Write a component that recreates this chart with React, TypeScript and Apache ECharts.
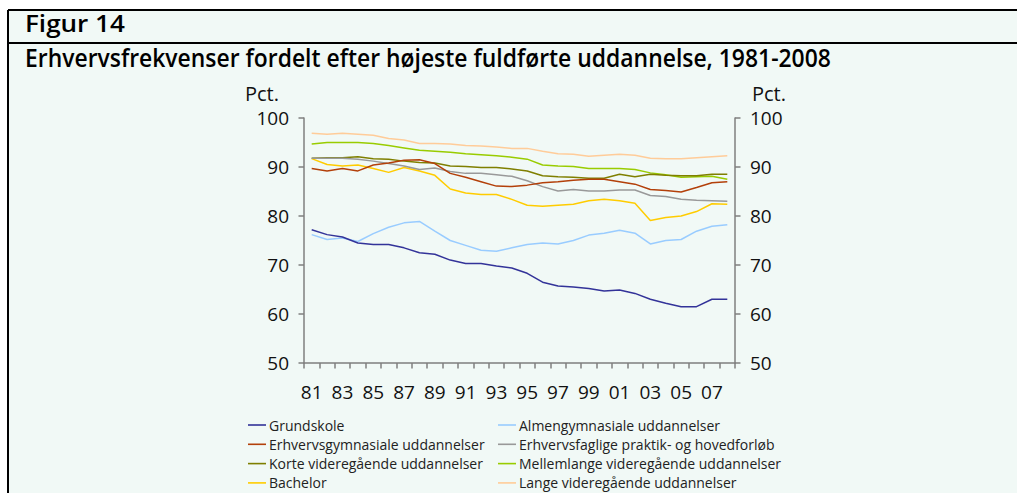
import React, { useEffect, useRef } from "react";
import * as echarts from "echarts";

const years = ["81","82","83","84","85","86","87","88","89","90","91","92","93","94","95","96","97","98","99","00","01","02","03","04","05","06","07","08"];
const yTicks = [50, 60, 70, 80, 90, 100];

const grundskole = [77.2,76.2,75.7,74.5,74.2,74.2,73.5,72.5,72.2,71.0,70.3,70.3,69.8,69.4,68.3,66.5,65.7,65.5,65.2,64.7,64.9,64.2,63.0,62.2,61.5,61.5,63.0,63.0];
const almen = [76.2,75.2,75.5,74.8,76.4,77.7,78.6,78.9,76.9,75.0,74.0,73.0,72.8,73.5,74.2,74.5,74.3,75.0,76.1,76.5,77.1,76.5,74.3,75.0,75.2,76.9,77.9,78.2];
const erhvGym = [89.7,89.2,89.7,89.2,90.4,90.8,91.4,91.5,90.7,88.7,87.9,87.0,86.1,86.0,86.3,86.8,87.0,87.3,87.5,87.5,87.0,86.5,85.4,85.2,84.9,85.8,86.8,87.0];
const erhvFag = [91.8,91.8,91.8,91.6,91.2,90.7,90.2,89.5,89.8,89.1,88.7,88.7,88.4,88.1,87.2,86.0,85.1,85.4,85.1,85.1,85.3,85.3,84.2,84.0,83.4,83.2,83.1,83.0];
const korte = [91.8,91.9,91.9,92.1,91.7,91.6,91.2,90.9,90.8,90.2,90.1,89.9,89.9,89.6,89.2,88.2,88.0,87.9,87.7,87.7,88.5,88.0,88.5,88.3,88.2,88.2,88.5,88.5];
const mellem = [94.7,95.0,95.0,95.0,94.8,94.4,93.9,93.4,93.2,93.0,92.7,92.5,92.3,92.0,91.6,90.4,90.2,90.1,89.7,89.7,89.7,89.5,88.8,88.4,87.9,88.0,88.1,87.5];
const bachelor = [91.7,90.5,90.2,90.4,89.7,88.9,89.9,89.2,88.3,85.5,84.7,84.4,84.4,83.4,82.2,82.0,82.2,82.4,83.1,83.4,83.1,82.6,79.1,79.7,80.0,80.9,82.5,82.4];
const lange = [96.9,96.7,96.9,96.7,96.5,95.8,95.5,94.8,94.8,94.7,94.4,94.3,94.1,93.8,93.8,93.2,92.7,92.6,92.2,92.4,92.6,92.4,91.8,91.7,91.7,91.9,92.1,92.3];

const seriesNames = [
  "Grundskole",
  "Almengymnasiale uddannelser",
  "Erhvervsgymnasiale uddannelser",
  "Erhvervsfaglige praktik- og hovedforløb",
  "Korte videregående uddannelser",
  "Mellemlange videregående uddannelser",
  "Bachelor",
  "Lange videregående uddannelser",
];
const seriesData = [grundskole, almen, erhvGym, erhvFag, korte, mellem, bachelor, lange];
const seriesColors = ["#333399", "#99ccff", "#b3400a", "#999999", "#7f7f00", "#99cc00", "#ffcc00", "#ffcc99"];

const figureLabel = "Figur 14";
const titleText = "Erhvervsfrekvenser fordelt efter højeste fuldførte uddannelse, 1981-2008";
const unitLabel = "Pct.";

const BG = "#f1f9f6";
const TFONT = "'Open Sans', 'Liberation Sans', sans-serif";
const AXFONT = "'Open Sans', 'Noto Sans', sans-serif";

function measure(text: string, font: string): number {
  const c = document.createElement("canvas").getContext("2d");
  if (!c) return 0;
  c.font = font;
  return c.measureText(text).width;
}

export default function App() {
  const ref = useRef<HTMLDivElement>(null);
  useEffect(() => {
    if (!ref.current) return;
    const chart = echarts.init(ref.current, undefined, { renderer: "svg" });
    const titleSize = 25;
    const figSize = 23;
    const tw = measure(titleText, `600 ${titleSize}px ${TFONT}`) || 900;
    const fw = measure(figureLabel, `600 ${figSize}px ${TFONT}`) || 100;
    const titleScale = 806 / tw;
    const figScale = 100 / fw;

    const axisLine = { show: true, lineStyle: { color: "#7f7f7f", width: 1.5 } };
    const yAxisBase = {
      type: "value",
      min: yTicks[0],
      max: yTicks[yTicks.length - 1],
      interval: 10,
      splitLine: { show: false },
      axisLine,
      axisTick: { show: true, length: 5.5, lineStyle: { color: "#7f7f7f", width: 1.5 } },
      axisLabel: { color: "#111", fontSize: 19, fontFamily: AXFONT, margin: 15 },
    };
    const legendBase = {
      orient: "vertical",
      top: 418,
      height: 100,
      padding: 0,
      itemWidth: 18,
      itemHeight: 1.6,
      itemGap: 5.3,
      icon: "rect",
      textStyle: { color: "#222", fontSize: 14, fontFamily: AXFONT, padding: [0, 0, 0, -2] },
    };
    chart.setOption({
      animation: false,
      backgroundColor: "#ffffff",
      graphic: [
        { type: "rect", shape: { x: 8, y: 10, width: 1017, height: 493 }, style: { fill: BG }, silent: true, z: -10 },
        { type: "line", shape: { x1: 8, y1: 10, x2: 1017, y2: 10 }, style: { stroke: "#000", lineWidth: 2 } },
        { type: "line", shape: { x1: 8, y1: 43, x2: 1017, y2: 43 }, style: { stroke: "#000", lineWidth: 2 } },
        { type: "line", shape: { x1: 8, y1: 10, x2: 8, y2: 493 }, style: { stroke: "#000", lineWidth: 2 } },
        { type: "text", x: 25, y: 12, scaleX: figScale, style: { text: figureLabel, fontSize: figSize, fontWeight: 600, fontFamily: TFONT, fill: "#000" } },
        { type: "text", x: 25, y: 45, scaleX: titleScale, style: { text: titleText, fontSize: titleSize, fontWeight: 600, fontFamily: TFONT, fill: "#000" } },
        { type: "text", x: 245, y: 83, style: { text: unitLabel, fontSize: 20, fontFamily: AXFONT, fill: "#111" } },
        { type: "text", x: 752, y: 83, style: { text: unitLabel, fontSize: 20, fontFamily: AXFONT, fill: "#111" } },
      ],
      grid: { left: 304, right: 282, top: 118, bottom: 130 },
      xAxis: {
        type: "category",
        data: years,
        boundaryGap: true,
        axisLine,
        axisTick: { show: true, interval: 0, length: 5.5, lineStyle: { color: "#7f7f7f", width: 1.5 } },
        axisLabel: { interval: 1, color: "#111", fontSize: 19, fontFamily: AXFONT, margin: 19 },
        splitLine: { show: false },
      },
      yAxis: [
        { ...yAxisBase, position: "left" },
        { ...yAxisBase, position: "right" },
      ],
      legend: [
        { ...legendBase, left: 248, data: [seriesNames[0], seriesNames[2], seriesNames[4], seriesNames[6]] },
        { ...legendBase, left: 498, data: [seriesNames[1], seriesNames[3], seriesNames[5], seriesNames[7]] },
      ],
      series: seriesNames.map((name, i) => ({
        name,
        type: "line",
        data: seriesData[i],
        yAxisIndex: 0,
        symbol: "none",
        color: seriesColors[i],
        lineStyle: { width: 1.5, color: seriesColors[i] },
        z: 10 - i,
      })),
    });
    return () => chart.dispose();
  }, []);
  return <div ref={ref} style={{ position: "fixed", left: 0, top: 0, width: 1017, height: 493 }} />;
}
